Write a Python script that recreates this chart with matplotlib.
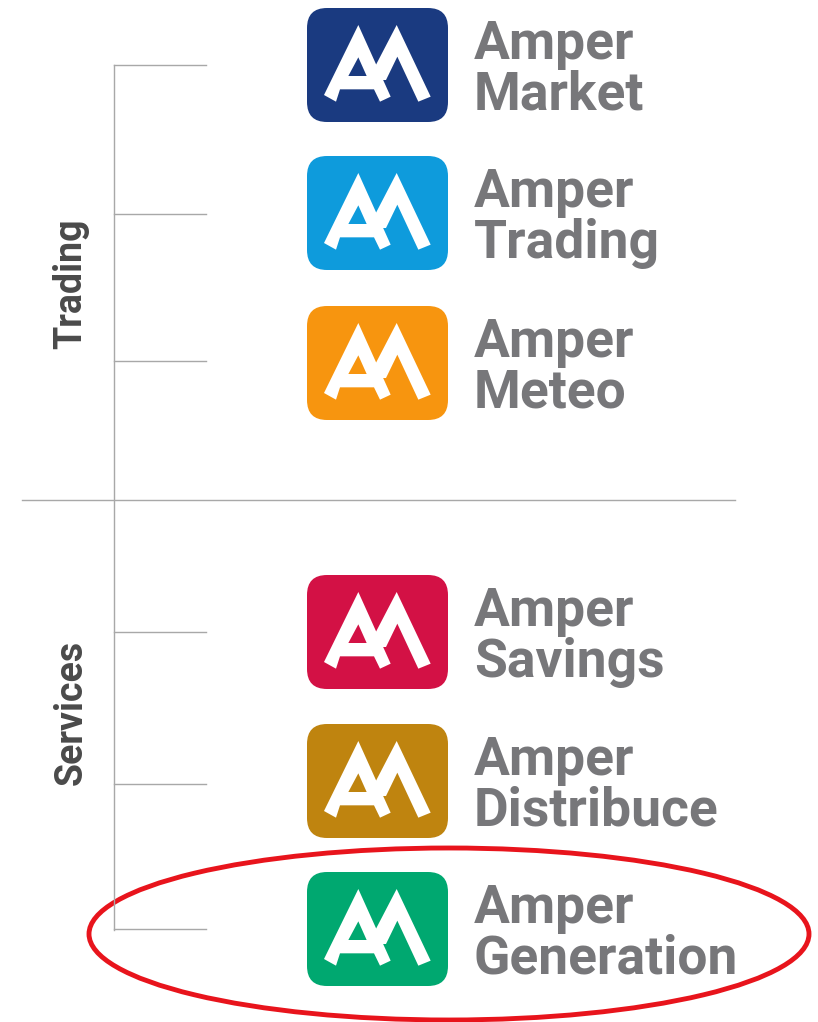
#!/usr/bin/env python3
import matplotlib.pyplot as plt
from matplotlib.patches import FancyBboxPatch, Ellipse, Polygon

W, H = 818, 1022

# brands, top to bottom
brands = ['Market', 'Trading', 'Meteo', 'Savings', 'Distribuce', 'Generation']
colors = ['#1a3a80', '#0e9bdc', '#f7950f', '#d31145', '#bf840f', '#00a870']
logo_top = [8, 156, 306, 575, 724, 872]
tick_y = [66, 215, 362, 633, 785, 930]
groups = ['Trading', 'Services']
group_y = [284, 712]

# logo outlines, taken from a 3x crop of the first logo (crop px, crop starts at x=300, y=0)
shape_a = [(72, 285), (175, 75), (272, 290), (240, 305), (222, 268), (120, 268), (108, 305)]
shape_hole = [(175, 172), (145, 228), (200, 228)]
shape_m = [(225, 200), (290, 75), (392, 290), (355, 305), (292, 170), (258, 240), (240, 240)]

plt.rcParams['font.family'] = ['Roboto', 'DejaVu Sans']

fig = plt.figure(figsize=(W / 100, H / 100), dpi=100)
ax = fig.add_axes([0, 0, 1, 1])
ax.set_xlim(0, W)
ax.set_ylim(H, 0)
ax.axis('off')

line_c = '#a8a8a8'
ax.plot([113.5, 113.5], [65.5, 930], color=line_c, lw=1)
ax.plot([22, 735], [500, 500], color=line_c, lw=1)
for y in tick_y:
    ax.plot([113.5, 206], [y - 0.5, y - 0.5], color=line_c, lw=1)

for g, y in zip(groups, group_y):
    ax.text(71, y, g, rotation=90, ha='center', va='center', fontsize=27,
            fontweight='bold', color='#4a4a4a')


def to_px(points, top):
    return [(300 + x / 3, top - 8 + y / 3) for x, y in points]


def logo(top, color):
    ax.add_patch(FancyBboxPatch((307 + 20, top + 20), 141 - 40, 114 - 40,
                                boxstyle='round,pad=20,rounding_size=20',
                                fc=color, ec='none'))
    ax.add_patch(Polygon(to_px(shape_a, top), fc='white', ec='none'))
    ax.add_patch(Polygon(to_px(shape_hole, top), fc=color, ec='none'))
    ax.add_patch(Polygon(to_px(shape_m, top), fc='white', ec='none'))


for top, name, color in zip(logo_top, brands, colors):
    logo(top, color)
    ax.text(474, top + 51, 'Amper', fontsize=38.4, fontweight='bold',
            color='#77777a', va='baseline', ha='left')
    ax.text(474, top + 102, name, fontsize=38.4, fontweight='bold',
            color='#77777a', va='baseline', ha='left')

ax.add_patch(Ellipse((449, 934), 720, 172, fc='none', ec='#e8141c', lw=3.5))

fig.savefig('out.png', dpi=100)
